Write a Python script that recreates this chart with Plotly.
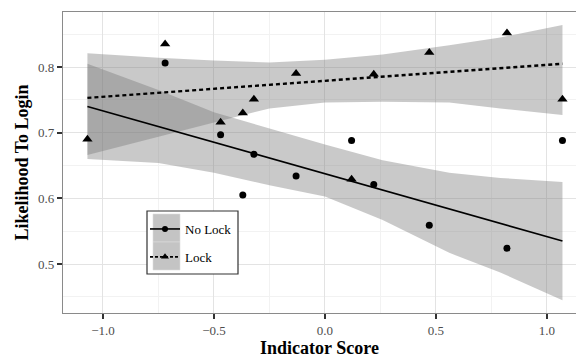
import plotly.graph_objects as go

# ---- data ----
score = [-1.07, -0.72, -0.47, -0.37, -0.32, -0.13, 0.12, 0.22, 0.47, 0.82, 1.07]
lock_vals = [0.690, 0.835, 0.716, 0.730, 0.751, 0.790, 0.629, 0.789, 0.822, 0.852, 0.751]

nolock_x = [-0.72, -0.47, -0.37, -0.32, -0.13, 0.12, 0.22, 0.47, 0.82, 1.07]
nolock_vals = [0.806, 0.697, 0.605, 0.667, 0.634, 0.688, 0.621, 0.559, 0.524, 0.688]

fit_x = [-1.07, 1.07]
nolock_fit = [0.740, 0.535]
lock_fit = [0.753, 0.805]

band_x = [-1.07, -0.75, -0.5, -0.25, 0.0, 0.26, 0.56, 0.79, 1.07]
nolock_upper = [0.805, 0.765, 0.731, 0.706, 0.682, 0.658, 0.639, 0.631, 0.625]
nolock_lower = [0.660, 0.654, 0.639, 0.620, 0.603, 0.567, 0.517, 0.487, 0.445]
lock_upper = [0.821, 0.814, 0.810, 0.807, 0.811, 0.819, 0.833, 0.845, 0.864]
lock_lower = [0.666, 0.694, 0.716, 0.737, 0.746, 0.747, 0.746, 0.737, 0.727]

x_ticks = [-1.0, -0.5, 0.0, 0.5, 1.0]
x_ticklabels = ["\u22121.0", "\u22120.5", "0.0", "0.5", "1.0"]
y_ticks = [0.5, 0.6, 0.7, 0.8]
y_ticklabels = ["0.5", "0.6", "0.7", "0.8"]

FONT = "Liberation Serif, Times New Roman, serif"
BAND = "rgba(120,120,120,0.4)"

fig = go.Figure()

# confidence ribbons
fig.add_trace(go.Scatter(x=band_x + band_x[::-1], y=nolock_upper + nolock_lower[::-1],
                         fill="toself", fillcolor=BAND, line=dict(width=0),
                         mode="lines", hoverinfo="skip", showlegend=False))
fig.add_trace(go.Scatter(x=band_x + band_x[::-1], y=lock_upper + lock_lower[::-1],
                         fill="toself", fillcolor=BAND, line=dict(width=0),
                         mode="lines", hoverinfo="skip", showlegend=False))

# fitted lines
fig.add_trace(go.Scatter(x=fit_x, y=nolock_fit, mode="lines",
                         line=dict(color="black", width=1.6), showlegend=False))
fig.add_trace(go.Scatter(x=fit_x, y=lock_fit, mode="lines",
                         line=dict(color="black", width=2.4, dash="4px,3px"), showlegend=False))

# points
fig.add_trace(go.Scatter(x=nolock_x, y=nolock_vals, mode="markers", cliponaxis=False,
                         marker=dict(symbol="circle", size=7, color="black"), showlegend=False))
fig.add_trace(go.Scatter(x=score, y=lock_vals, mode="markers", cliponaxis=False,
                         marker=dict(symbol="triangle-up", size=9, color="black"), showlegend=False))

# legend entries
fig.add_trace(go.Scatter(x=[None], y=[None], mode="lines+markers", name="No Lock",
                         legendgroup="a",
                         line=dict(color="black", width=1.6),
                         marker=dict(symbol="circle", size=6, color="black")))
fig.add_trace(go.Scatter(x=[None], y=[None], mode="lines+markers", name="Lock",
                         legendgroup="b",
                         line=dict(color="black", width=1.6, dash="3px,2px"),
                         marker=dict(symbol="triangle-up", size=7, color="black")))

L, R, T, B = 63, 0, 12, 47
W, H = 576, 360
pw, ph = W - L - R, H - T - B

def px(xp):
    return (xp - L) / pw

def py(yp):
    return 1 - (yp - T) / ph

shapes = [
    dict(type="rect", xref="paper", yref="paper", layer="above",
         x0=px(147), x1=px(238), y0=py(274), y1=py(211),
         fillcolor="white", line=dict(color="#333333", width=1.2)),
    dict(type="rect", xref="paper", yref="paper", layer="above",
         x0=px(153), x1=px(180), y0=py(242), y1=py(214),
         fillcolor="#c4c4c4", line=dict(color="#dddddd", width=0.6)),
    dict(type="rect", xref="paper", yref="paper", layer="above",
         x0=px(153), x1=px(180), y0=py(270), y1=py(242),
         fillcolor="#c4c4c4", line=dict(color="#dddddd", width=0.6)),
]

fig.update_layout(
    width=W, height=H,
    margin=dict(l=L, r=R, t=T, b=B, autoexpand=False),
    plot_bgcolor="white", paper_bgcolor="white",
    font=dict(family=FONT, color="black"),
    shapes=shapes,
    legend=dict(x=px(145), y=py(214), xanchor="left", yanchor="top",
                bgcolor="rgba(0,0,0,0)", borderwidth=0,
                font=dict(family=FONT, size=13, color="black"),
                tracegroupgap=8, itemwidth=30),
    xaxis=dict(range=[-1.180, 1.131], tickvals=x_ticks, ticktext=x_ticklabels,
               automargin=False,
               showgrid=True, gridcolor="#e3e3e3", gridwidth=1,
               minor=dict(dtick=0.25, tick0=0, showgrid=True, gridcolor="#f2f2f2", gridwidth=1),
               zeroline=False, showline=True, linecolor="#8a8a8a", linewidth=1.2, mirror=True,
               ticks="outside", ticklen=5, tickwidth=2, tickcolor="#333333",
               tickfont=dict(family=FONT, size=13, color="#4d4d4d"),
               title=dict(text="<b>Indicator Score</b>", standoff=2,
                          font=dict(family=FONT, size=18, color="black"))),
    yaxis=dict(range=[0.4254, 0.8838], tickvals=y_ticks, ticktext=y_ticklabels,
               automargin=False,
               showgrid=True, gridcolor="#e3e3e3", gridwidth=1,
               minor=dict(dtick=0.05, tick0=0, showgrid=True, gridcolor="#f2f2f2", gridwidth=1),
               zeroline=False, showline=True, linecolor="#8a8a8a", linewidth=1.2,
               ticks="outside", ticklen=5, tickwidth=2, tickcolor="#333333",
               tickfont=dict(family=FONT, size=13, color="#4d4d4d"),
               title=dict(text="<b>Likelihood To Login</b>", standoff=4,
                          font=dict(family=FONT, size=18, color="black"))),
)

fig.write_html("out.html", config={"displayModeBar": False},
               post_script="document.body.style.margin='0px';")
